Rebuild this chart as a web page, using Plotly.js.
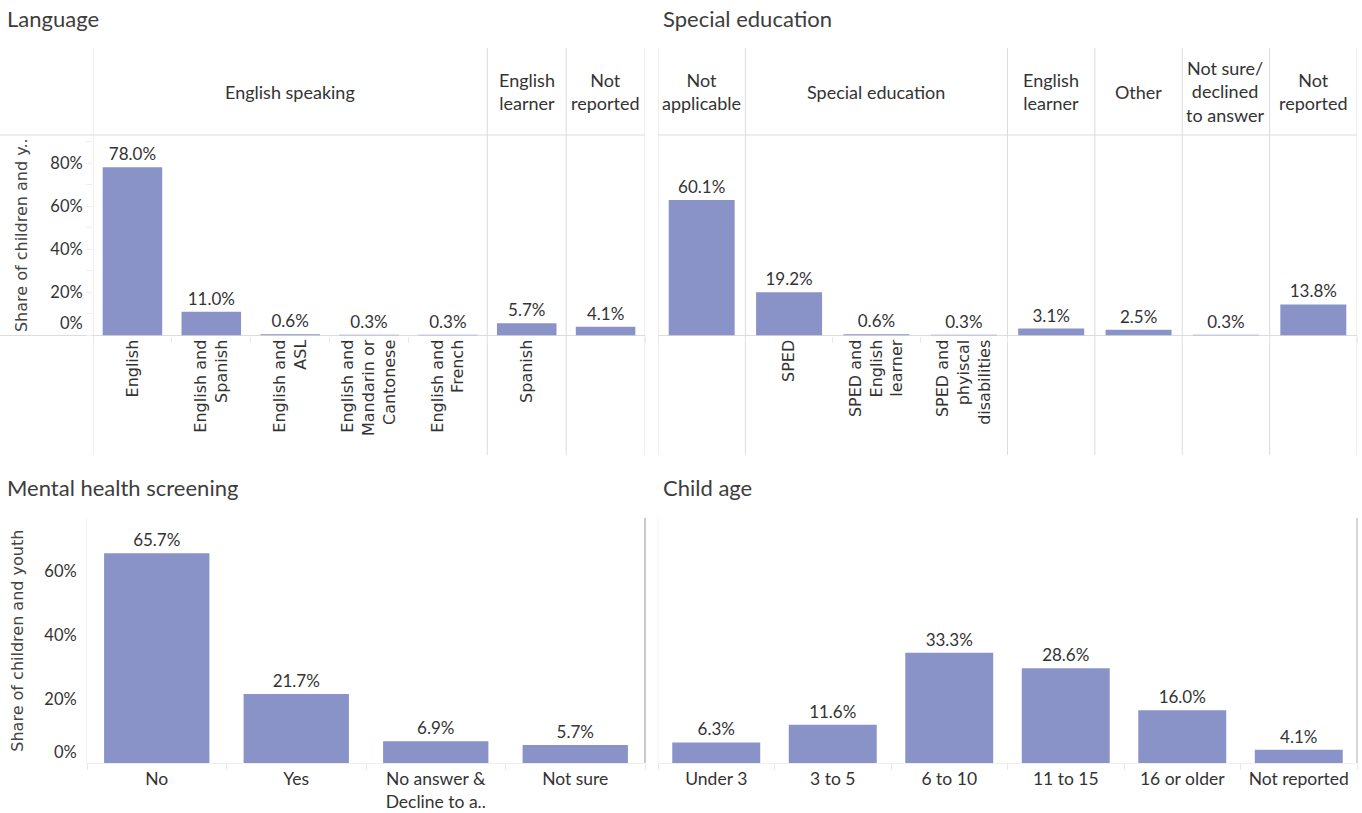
<!DOCTYPE html>
<html>
<head>
<meta charset="utf-8">
<script src="https://cdn.plot.ly/plotly-3.0.1.min.js"></script>
<style>
html,body{margin:0;padding:0;background:#fff;}
#chart{width:1362px;height:813px;}
</style>
</head>
<body>
<div id="chart"></div>
<script>
// ---------- DATA ----------
const languageCategories = ['English', 'English and Spanish', 'English and ASL', 'English and Mandarin or Cantonese', 'English and French', 'Spanish', 'Not reported'];
const languageGroups = ['English speaking', 'English speaking', 'English speaking', 'English speaking', 'English speaking', 'English learner', 'Not reported'];
const languageGroupLabels = {'English speaking': 'English speaking', 'English learner': 'English<br>learner', 'Not reported': 'Not<br>reported'};
const languageTickLabels = ['English', 'English and<br>Spanish', 'English and<br>ASL', 'English and<br>Mandarin or<br>Cantonese', 'English and<br>French', 'Spanish', ''];
const languageValues = [78.0, 11.0, 0.6, 0.3, 0.3, 5.7, 4.1];

const specialEdCategories = ['Not applicable', 'SPED', 'SPED and English learner', 'SPED and phyiscal disabilities', 'English learner', 'Other', 'Not sure/declined to answer', 'Not reported'];
const specialEdGroups = ['Not applicable', 'Special education', 'Special education', 'Special education', 'English learner', 'Other', 'Not sure/declined to answer', 'Not reported'];
const specialEdGroupLabels = {'Not applicable': 'Not<br>applicable', 'Special education': 'Special education', 'English learner': 'English<br>learner', 'Other': 'Other', 'Not sure/declined to answer': 'Not sure/<br>declined<br>to answer', 'Not reported': 'Not<br>reported'};
const specialEdTickLabels = ['', 'SPED', 'SPED and<br>English<br>learner', 'SPED and<br>phyiscal<br>disabilities', '', '', '', ''];
const specialEdValues = [60.1, 19.2, 0.6, 0.3, 3.1, 2.5, 0.3, 13.8];

const screeningCategories = ['No', 'Yes', 'No answer & Decline to a..', 'Not sure'];
const screeningTickLabels = ['No', 'Yes', 'No answer &<br>Decline to a..', 'Not sure'];
const screeningValues = [65.7, 21.7, 6.9, 5.7];

const ageCategories = ['Under 3', '3 to 5', '6 to 10', '11 to 15', '16 or older', 'Not reported'];
const ageValues = [6.3, 11.6, 33.3, 28.6, 16.0, 4.1];

const panelTitles = ['Language', 'Special education', 'Mental health screening', 'Child age'];
const topTickLabels = ['20%', '40%', '60%', '80%'];
const bottomTickLabels = ['20%', '40%', '60%'];

// ---------- STYLE / LAYOUT HELPERS ----------
const W = 1362, H = 813;
const px = v => v / W;
const py = v => 1 - v / H;
const BAR = '#8a93c8';
const TXT = '#333333';
const LINE = '#dcdcdc';
const SANS = 'Lato';
const WIDE = 'DejaVu Sans';

function barTrace(x, y, xa, ya) {
  return {
    type: 'bar', x: x, y: y, xaxis: xa, yaxis: ya,
    marker: {color: BAR, line: {width: 0}},
    texttemplate: '%{y:.1f}%', textposition: 'outside', cliponaxis: false,
    constraintext: 'none',
    outsidetextfont: {family: SANS, size: 17, color: TXT},
    hoverinfo: 'x+y', showlegend: false
  };
}

const traces = [
  barTrace(languageCategories, languageValues, 'x', 'y'),
  barTrace(specialEdCategories, specialEdValues, 'x2', 'y2'),
  barTrace(screeningCategories, screeningValues, 'x3', 'y3'),
  barTrace(ageCategories, ageValues, 'x4', 'y4'),
  {type: 'scatter', x: [], y: [], xaxis: 'x', yaxis: 'y5', showlegend: false, hoverinfo: 'skip'},
  {type: 'scatter', x: [], y: [], xaxis: 'x3', yaxis: 'y6', showlegend: false, hoverinfo: 'skip'}
];

const topDomY = [py(335.5), py(135)];
const botDomY = [py(763.3), py(518)];
const leftTopDomX = [px(93), px(645)];
const rightDomX = [px(658), px(1357)];
const leftBotDomX = [px(87), px(645)];

function catAxis(domain, n, anchor, rotated, labels, cats) {
  return {
    domain: domain, anchor: anchor, type: 'category', range: [-0.5, n - 0.5],
    tickmode: 'array', tickvals: cats, ticktext: labels,
    tickangle: rotated ? -90 : 0,
    tickfont: rotated ? {family: WIDE, size: 16, color: TXT} : {family: SANS, size: 17.5, color: TXT},
    ticks: 'outside', tickson: 'boundaries', ticklen: 6, tickcolor: '#e8e8e8',
    showline: !rotated, linecolor: '#eeeeee', showgrid: false, zeroline: false, fixedrange: true,
    automargin: false
  };
}

const layout = {
  width: W, height: H,
  margin: {l: 0, r: 0, t: 0, b: 0},
  paper_bgcolor: '#fff', plot_bgcolor: 'rgba(0,0,0,0)',
  bargap: 0.245,
  showlegend: false,
  font: {family: SANS, color: TXT},
  xaxis: catAxis(leftTopDomX, languageCategories.length, 'y', true, languageTickLabels, languageCategories),
  xaxis2: catAxis(rightDomX, specialEdCategories.length, 'y2', true, specialEdTickLabels, specialEdCategories),
  xaxis3: catAxis(leftBotDomX, screeningCategories.length, 'y3', false, screeningTickLabels, screeningCategories),
  xaxis4: catAxis(rightDomX, ageCategories.length, 'y4', false, ageCategories, ageCategories),
  yaxis: {
    domain: topDomY, anchor: 'x', range: [0, 93],
    tickmode: 'array', tickvals: [20, 40, 60, 80], ticktext: topTickLabels,
    tickfont: {family: SANS, size: 16.5, color: TXT},
    ticks: 'outside', ticklen: 6, tickcolor: '#eeeeee',
    minor: {tickmode: 'array', tickvals: [0, 10, 30, 50, 70, 90], ticks: 'outside', ticklen: 6, tickcolor: '#eeeeee'},
    showgrid: false, zeroline: false, showline: false, fixedrange: true, automargin: false,
    title: {text: 'Share of children and y..', font: {family: WIDE, size: 16, color: '#444'}, standoff: 18}
  },
  yaxis5: {
    overlaying: 'y', anchor: 'x', side: 'left', range: [0, 93],
    tickmode: 'array', tickvals: [0], ticktext: ['0%'], ticklabelshift: -12,
    tickfont: {family: SANS, size: 16.5, color: TXT},
    ticks: 'outside', ticklen: 6, tickcolor: 'rgba(0,0,0,0)',
    showgrid: false, zeroline: false, showline: false, fixedrange: true, automargin: false
  },
  yaxis2: {domain: topDomY, anchor: 'x2', range: [0, 89], visible: false, fixedrange: true},
  yaxis3: {
    domain: botDomY, anchor: 'x3', range: [0, 76.7],
    tickmode: 'array', tickvals: [20, 40, 60], ticktext: bottomTickLabels,
    tickfont: {family: SANS, size: 16.5, color: TXT},
    ticks: 'outside', ticklen: 6, tickcolor: 'rgba(0,0,0,0)',
    showgrid: false, zeroline: false, showline: true, linecolor: '#f2f2f2', fixedrange: true, automargin: false,
    title: {text: 'Share of children and youth', font: {family: WIDE, size: 16, color: '#444'}, standoff: 16}
  },
  yaxis6: {
    overlaying: 'y3', anchor: 'x3', side: 'left', range: [0, 76.7],
    tickmode: 'array', tickvals: [0], ticktext: ['0%'], ticklabelshift: -11,
    tickfont: {family: SANS, size: 16.5, color: TXT},
    ticks: 'outside', ticklen: 6, tickcolor: 'rgba(0,0,0,0)',
    showgrid: false, zeroline: false, showline: false, fixedrange: true, automargin: false
  },
  yaxis4: {domain: botDomY, anchor: 'x4', range: [0, 73.9], visible: false, fixedrange: true},
  annotations: [],
  shapes: []
};

// Panel titles
const titlePos = [[5, 18], [661, 18], [5, 487], [661, 487]];
panelTitles.forEach((t, i) => {
  layout.annotations.push({
    text: t, xref: 'paper', yref: 'paper', x: px(titlePos[i][0]), y: py(titlePos[i][1]),
    xanchor: 'left', yanchor: 'middle', showarrow: false,
    font: {family: SANS, size: 22, color: '#3d3d3d'}
  });
});

// Header groups and dividers
function addGroups(groups, labels, xa) {
  const runs = [];
  groups.forEach((g, i) => {
    if (runs.length && runs[runs.length - 1].g === g) runs[runs.length - 1].end = i;
    else runs.push({g: g, start: i, end: i});
  });
  const bounds = [-0.5];
  runs.forEach(r => {
    layout.annotations.push({
      text: labels[r.g], xref: xa, yref: 'paper', x: (r.start + r.end) / 2, y: py(91.5),
      xanchor: 'center', yanchor: 'middle', showarrow: false, align: 'center',
      font: {family: SANS, size: 18, color: TXT}
    });
    bounds.push(r.end + 0.5);
  });
  bounds.forEach(b => {
    layout.shapes.push({type: 'line', xref: xa, yref: 'paper', x0: b, x1: b, y0: py(48), y1: py(455),
      line: {color: LINE, width: 1}, layer: 'below'});
  });
}
addGroups(languageGroups, languageGroupLabels, 'x');
addGroups(specialEdGroups, specialEdGroupLabels, 'x2');

// Horizontal band lines on the top row
[[0, 645], [658, 1357]].forEach(([a, b]) => {
  [135, 335.5].forEach(yy => {
    layout.shapes.push({type: 'line', xref: 'paper', yref: 'paper', x0: px(a), x1: px(b), y0: py(yy), y1: py(yy),
      line: {color: LINE, width: 1}, layer: 'below'});
  });
});

// Bottom row dividers
layout.shapes.push({type: 'line', xref: 'paper', yref: 'paper', x0: px(645), x1: px(645), y0: py(518), y1: py(763),
  line: {color: '#b8b8b8', width: 1.5}});
layout.shapes.push({type: 'line', xref: 'paper', yref: 'paper', x0: px(1357), x1: px(1357), y0: py(518), y1: py(763),
  line: {color: '#c8c8c8', width: 1.5}});
layout.shapes.push({type: 'line', xref: 'paper', yref: 'paper', x0: px(658), x1: px(658), y0: py(518), y1: py(763),
  line: {color: '#f2f2f2', width: 1}, layer: 'below'});

Plotly.newPlot('chart', traces, layout, {displayModeBar: false, staticPlot: true});
</script>
</body>
</html>
